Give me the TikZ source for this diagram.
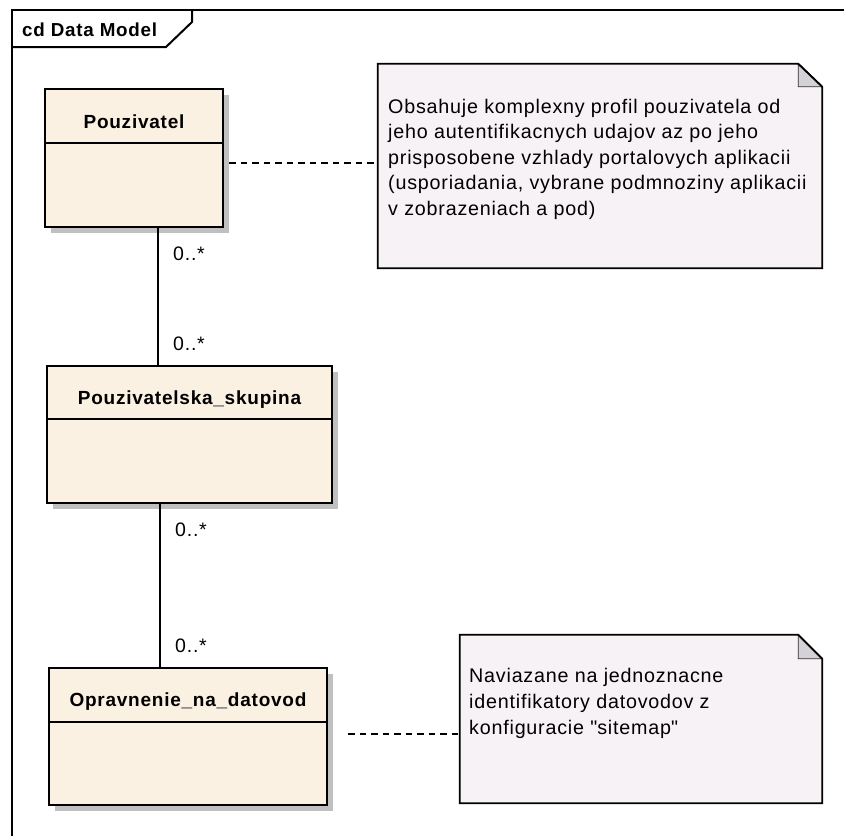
\documentclass[tikz,border=0pt]{standalone}
\usepackage{fontspec}
\setmainfont[LetterSpace=4]{Liberation Sans}
\usetikzlibrary{shadows}
\definecolor{classfill}{RGB}{251,241,227}
\definecolor{notefill}{RGB}{246,242,246}
\definecolor{foldfill}{RGB}{212,210,214}
\definecolor{shadowgray}{RGB}{192,192,192}
\begin{document}
\begin{tikzpicture}[x=1pt,y=-1pt,
  classbox/.style={draw=black, line width=2pt, fill=classfill, inner sep=0pt,
    drop shadow={shadow xshift=6pt, shadow yshift=-6pt, fill=shadowgray, opacity=1}},
  classlabel/.style={inner sep=0pt, anchor=base, font=\bfseries\fontsize{19}{22}\selectfont},
  divider/.style={line width=1.6pt},
  notearea/.style={inner sep=0pt},
  noteshape/.style={draw=black, line width=1.8pt, fill=notefill, line join=miter},
  foldshape/.style={draw=black!80, line width=0.8pt, fill=foldfill},
  notetext/.style={inner sep=0pt, anchor=base west, font=\fontsize{19.7}{25.5}\selectfont},
  mult/.style={inner sep=0pt, anchor=base west, font=\fontsize{19.5}{22}\selectfont},
  assoc/.style={line width=1.8pt},
  notelink/.style={line width=1.6pt, dash pattern=on 6.5pt off 5pt},
  framestyle/.style={line width=2pt, line join=miter}
]
\fill[white] (0,0) rectangle (844,836);
\useasboundingbox (0,0) rectangle (844,836);

% frame
\draw[framestyle] (12,836) -- (12,10) -- (844,10);
\draw[framestyle] (12,47) -- (166,47) -- (192,22) -- (192,10);
\node[inner sep=0pt, anchor=base west, font=\bfseries\fontsize{18.8}{22}\selectfont] (hdr) at (22,36) {cd Data Model};

% classes
\node[classbox, minimum width=178pt, minimum height=138pt] (pouz) at (134,158) {};
\draw[divider] ([yshift=-55pt]pouz.north west) -- ([yshift=-55pt]pouz.north east);
\node[classlabel] (pouzlbl) at (134,128) {Pouzivatel};

\node[classbox, minimum width=285pt, minimum height=137pt] (skup) at (189.5,434.5) {};
\draw[divider] ([yshift=-54pt]skup.north west) -- ([yshift=-54pt]skup.north east);
\node[classlabel] (skuplbl) at (189.5,404) {Pouzivatelska\_skupina};

\node[classbox, minimum width=278pt, minimum height=137pt] (opra) at (188,736.5) {};
\draw[divider] ([yshift=-55pt]opra.north west) -- ([yshift=-55pt]opra.north east);
\node[classlabel] (opralbl) at (188,706) {Opravnenie\_na\_datovod};

% associations
\coordinate (c1) at (158,0);
\coordinate (c2) at (160,0);
\draw[assoc] (pouz.south -| c1) -- (skup.north -| c1);
\draw[assoc] (skup.south -| c2) -- (opra.north -| c2);
\node[mult] (m1) at (173,260) {0..*};
\node[mult] (m2) at (173,350) {0..*};
\node[mult] (m3) at (175,536) {0..*};
\node[mult] (m4) at (175,652) {0..*};

% notes
\node[notearea, minimum width=444pt, minimum height=204pt] (n1) at (600,166) {};
\draw[noteshape] (n1.north west) -- ([xshift=-24pt]n1.north east) -- ([yshift=-23pt]n1.north east) -- (n1.south east) -- (n1.south west) -- cycle;
\draw[foldshape] ([xshift=-24pt]n1.north east) -- ([xshift=-24pt,yshift=-23pt]n1.north east) -- ([yshift=-23pt]n1.north east) -- cycle;
\draw[line width=1.8pt] ([xshift=-24pt]n1.north east) -- ([yshift=-23pt]n1.north east);
\node[notetext] (n1t) at (388,113) {\parbox[t]{430pt}{Obsahuje komplexny profil pouzivatela od\\
jeho autentifikacnych udajov az po jeho\\
prisposobene vzhlady portalovych aplikacii\\
(usporiadania, vybrane podmnoziny aplikacii\\
v zobrazeniach a pod)}};

\node[notearea, minimum width=362pt, minimum height=168pt] (n2) at (641,719) {};
\draw[noteshape] (n2.north west) -- ([xshift=-24pt]n2.north east) -- ([yshift=-24pt]n2.north east) -- (n2.south east) -- (n2.south west) -- cycle;
\draw[foldshape] ([xshift=-24pt]n2.north east) -- ([xshift=-24pt,yshift=-24pt]n2.north east) -- ([yshift=-24pt]n2.north east) -- cycle;
\draw[line width=1.8pt] ([xshift=-24pt]n2.north east) -- ([yshift=-24pt]n2.north east);
\node[notetext, font=\fontsize{19.7}{26}\selectfont] (n2t) at (469,682) {\parbox[t]{350pt}{Naviazane na jednoznacne\\
identifikatory datovodov z\\
konfiguracie \textquotedbl sitemap\textquotedbl}};

% note links
\coordinate (d1) at (229,163);
\coordinate (d2) at (348,734);
\draw[notelink] (d1) -- (d1 -| n1.west);
\draw[notelink] (d2) -- (d2 -| n2.west);
\end{tikzpicture}
\end{document}
